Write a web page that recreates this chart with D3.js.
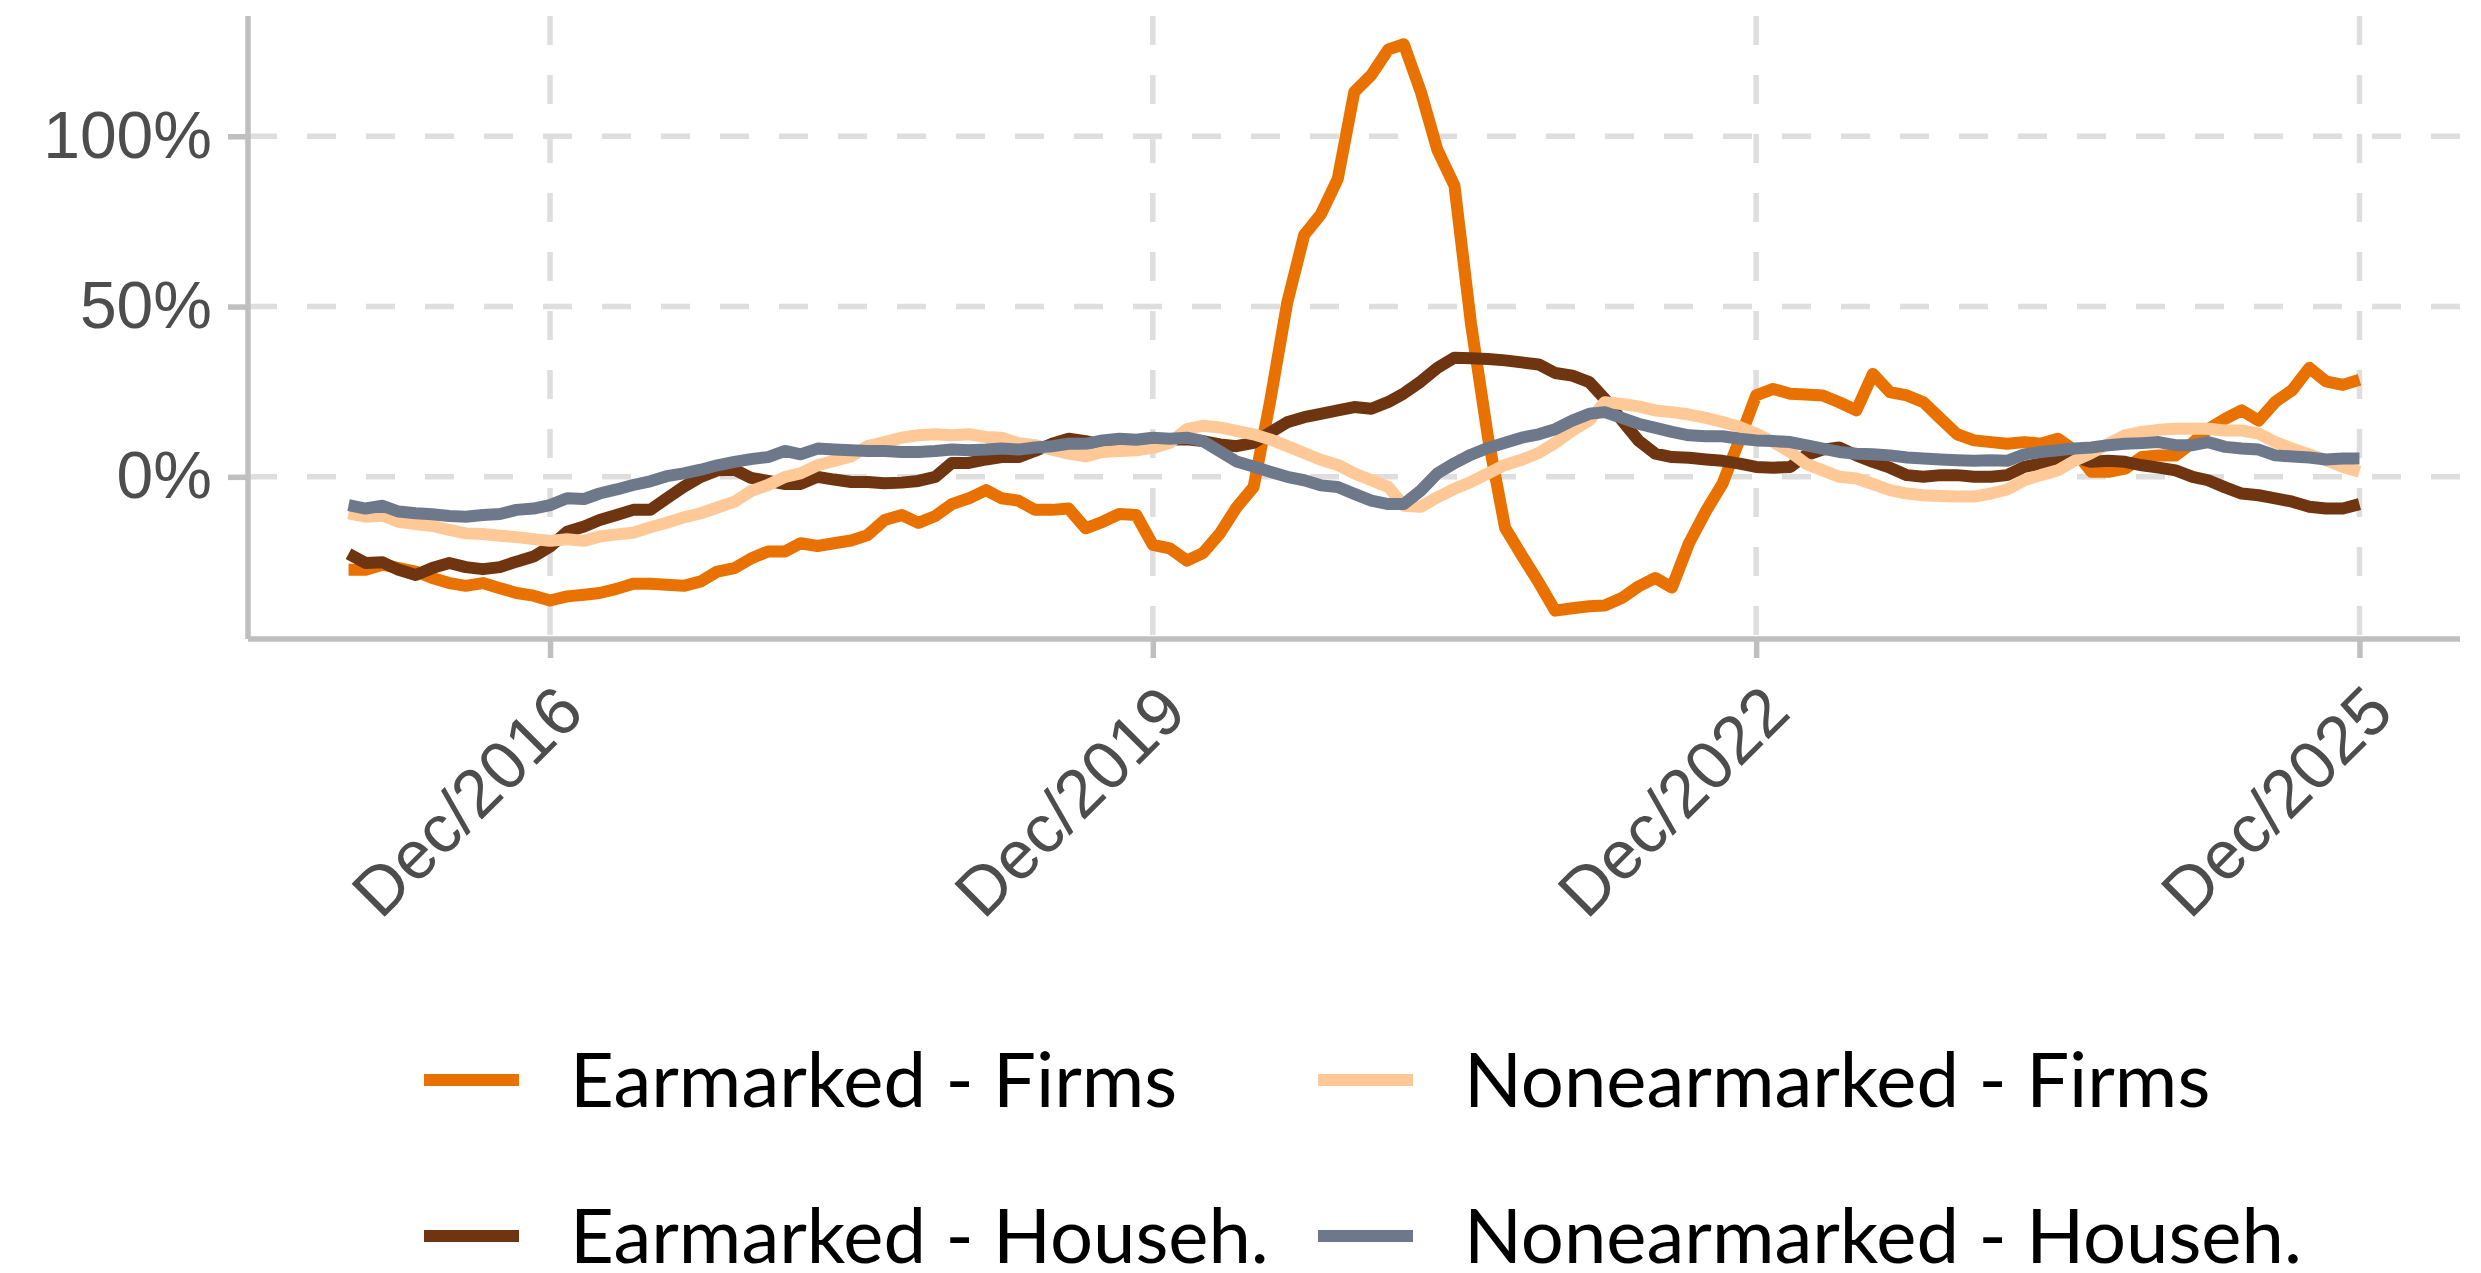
<!DOCTYPE html>
<html>
<head>
<meta charset="utf-8">
<script src="https://cdn.jsdelivr.net/npm/d3@7"></script>
<style>
  html, body { margin: 0; padding: 0; background: #fff; }
  svg { display: block; font-family: Lato, "Open Sans", sans-serif; }
</style>
</head>
<body>
<svg id="chart" width="2481" height="1273"></svg>
<script>
// monthly series, Dec/2015 .. Dec/2025 (121 points), values in %
var earmarkedFirms = [
  -27.3, -27.3, -25.8, -26.8, -27.8, -29.7, -31.2, -32, -31.2, -32.7, -34.1, -34.9, -36.3,
  -35.1, -34.6, -34.1, -32.9, -31.4, -31.4, -31.7, -32, -30.7, -27.8, -26.8, -24,
  -21.9, -21.9, -19.5, -20.3, -19.5, -18.7, -17.1, -12.7, -11.2, -13.5, -11.5, -8,
  -6.3, -3.9, -6.3, -7, -9.7, -9.7, -9.3, -15.1, -13.2, -10.9, -11.2, -20,
  -21, -24.6, -22.4, -16.6, -9, -3, 22, 51, 71, 77, 87.5, 113,
  118, 125.5, 127, 113, 96, 85.5, 45, 11.5, -15, -23, -31, -39.3,
  -38.6, -38, -37.8, -35.6, -32.2, -29.7, -32.5, -19.5, -10, -2, 11, 23.9,
  25.8, 24.4, 24.2, 23.9, 21.9, 19.5, 30.2, 24.9, 23.9, 21.9, 17.1, 12.5,
  10.7, 10.2, 9.7, 10.2, 9.7, 11.2, 7.8, 1.5, 1.5, 2.4, 5.8, 6.3,
  6.3, 10, 14, 17, 19.5, 16.5, 22, 25.5, 32, 28, 27, 28.5
];
var earmarkedHouseh = [
  -22.6, -25.3, -25.1, -27.3, -28.8, -26.8, -25.3, -26.5, -27.1, -26.5, -24.9, -23.4, -20.5,
  -16.1, -14.6, -12.7, -11.2, -9.7, -9.7, -6.3, -2.9, 0, 1.9, 2.1, -0.3,
  -1.2, -2.1, -2.1, 0, -0.8, -1.5, -1.5, -1.9, -1.7, -1.2, 0, 4.1,
  4.1, 5.1, 5.8, 5.8, 7.6, 9.7, 11.2, 10.5, 9.3, 8.8, 9.3, 9,
  11, 11, 10.5, 9.5, 9, 10, 13, 16, 17.5, 18.5, 19.5, 20.5,
  20, 22, 24.5, 28, 32, 35, 34.8, 34.6, 34.2, 33.6, 33, 30.5,
  29.7, 27.8, 22.9, 16.6, 10.7, 6.8, 5.8, 5.6, 5.1, 4.7, 3.9, 2.9,
  2.7, 2.9, 6.3, 8, 8.6, 6.3, 4.4, 2.7, 0.5, 0, 0.5, 0.5,
  0, 0, 0.5, 2.9, 3.9, 4.9, 5.8, 4.4, 4.7, 4.4, 3.4, 2.7,
  1.9, 0, -1, -3.1, -4.9, -5.4, -6.3, -7.3, -8.8, -9.3, -9.3, -8
];
var nonearmarkedFirms = [
  -10.7, -11.7, -11.4, -13.2, -13.9, -14.4, -15.6, -16.6, -16.8, -17.3, -17.7, -18.3, -18.8,
  -18.3, -18.8, -17.5, -16.9, -16.4, -14.8, -13.5, -11.9, -10.7, -9, -7.3, -4.2,
  -2.4, 0, 1, 3.4, 4.7, 6, 9, 10.2, 11.5, 12.2, 12.5, 12.2,
  12.5, 11.7, 11.5, 9.9, 9.3, 8, 6.8, 6, 7.3, 7.6, 7.8, 8.5,
  10, 14, 15, 14.5, 13.5, 12.5, 11, 9, 7, 5, 3.5, 1,
  -1, -3, -8.5, -8.8, -6, -3.5, -1.5, 1, 3.5, 5, 7, 10,
  13.6, 16.6, 21.9, 21.4, 20.7, 19.5, 19, 18.3, 17.3, 16.1, 14.6, 12.7,
  10.2, 7.3, 3.9, 1.9, 0, -0.5, -2.1, -3.9, -4.9, -5.4, -5.6, -5.8,
  -5.8, -4.9, -3.7, -1, 0.5, 1.9, 4.7, 7, 9.7, 12.2, 13.2, 13.8,
  14.1, 14.1, 14.1, 13.6, 13.6, 12.7, 10.2, 8.3, 6.6, 4.9, 2.9, 1.5
];
var nonearmarkedHouseh = [
  -8.3, -9.3, -8.5, -10.2, -10.7, -11, -11.5, -11.7, -11.2, -10.9, -9.7, -9.3, -8.3,
  -6.3, -6.5, -4.9, -3.7, -2.4, -1.3, 0.2, 1, 2.1, 3.4, 4.4, 5.2,
  5.8, 7.6, 6.6, 8.3, 8, 7.8, 7.6, 7.6, 7.3, 7.3, 7.6, 8,
  7.8, 8, 8.3, 8, 8.6, 9, 9.7, 9.7, 10.7, 11.2, 10.9, 11.5,
  11.2, 11.5, 10.5, 7.5, 4.5, 3, 1.5, 0, -1, -2.5, -3, -5,
  -7, -8, -8, -4, 1, 4, 6.5, 8.5, 10, 11.5, 12.5, 14,
  16.5, 18.5, 19, 17.3, 15.6, 14.4, 13.2, 12.2, 11.9, 11.9, 11.2, 10.7,
  10.5, 10.2, 9.3, 8.3, 7.3, 6.8, 6.6, 6.3, 5.7, 5.4, 5.1, 4.9,
  4.7, 4.9, 4.7, 6.6, 7.3, 7.8, 8.3, 8.6, 9.3, 9.7, 9.9, 10.2,
  9.3, 9.3, 10.2, 8.8, 8.3, 8, 6.3, 6, 5.7, 5.1, 5.4, 5.4
];

var seriesNames = ["Earmarked - Firms", "Earmarked - Househ.", "Nonearmarked - Firms", "Nonearmarked - Househ."];
var seriesColors = ["#e97100", "#6f3510", "#fec996", "#6e788b"];
var yTicks = [0, 50, 100];
var xTickYears = [2016, 2019, 2022, 2025];

var startDate = new Date(2015, 11, 1);
var dates = d3.range(earmarkedFirms.length).map(function (i) { return d3.timeMonth.offset(startDate, i); });

var series = [earmarkedFirms, earmarkedHouseh, nonearmarkedFirms, nonearmarkedHouseh].map(function (vals, k) {
  return { name: seriesNames[k], color: seriesColors[k], values: vals.map(function (v, i) { return { date: dates[i], value: v }; }) };
});

var svg = d3.select("#chart");

// panel box (ggplot style, 5% expansion on both axes)
var panel = { left: 248, right: 2460, top: 16, bottom: 639 };
var xSpan = panel.right - panel.left;
var xPad = xSpan * 0.05 / 1.1;
var x = d3.scaleTime()
    .domain([dates[0], dates[dates.length - 1]])
    .range([panel.left + xPad, panel.right - xPad]);

var allVals = d3.merge(series.map(function (s) { return s.values.map(function (d) { return d.value; }); }));
var yExt = d3.extent(allVals);
var yPad = (yExt[1] - yExt[0]) * 0.05;
var y = d3.scaleLinear()
    .domain([yExt[0] - yPad, yExt[1] + yPad])
    .range([panel.bottom, panel.top]);

var xTicks = xTickYears.map(function (yr) { return new Date(yr, 11, 1); });
var gridColor = "#dedede";
var axisColor = "#bfbfbf";

// gridlines
var grid = svg.append("g");
grid.selectAll(".hgrid").data(yTicks).enter().append("line")
    .attr("x1", panel.left).attr("x2", panel.right)
    .attr("y1", function (d) { return y(d); }).attr("y2", function (d) { return y(d); })
    .attr("stroke", gridColor).attr("stroke-width", 5.5)
    .attr("stroke-dasharray", "29 30");
grid.selectAll(".vgrid").data(xTicks).enter().append("line")
    .attr("x1", function (d) { return x(d); }).attr("x2", function (d) { return x(d); })
    .attr("y1", panel.top).attr("y2", panel.bottom)
    .attr("stroke", gridColor).attr("stroke-width", 5.5)
    .attr("stroke-dasharray", "29 30");

// series lines
var line = d3.line()
    .x(function (d) { return x(d.date); })
    .y(function (d) { return y(d.value); });

svg.append("g").selectAll("path").data(series).enter().append("path")
    .attr("d", function (s) { return line(s.values); })
    .attr("fill", "none")
    .attr("stroke", function (s) { return s.color; })
    .attr("stroke-width", 12)
    .attr("stroke-linejoin", "round");

// axes
var xAxis = svg.append("g").attr("transform", "translate(0," + panel.bottom + ")")
    .call(d3.axisBottom(x).tickValues(xTicks).tickFormat(d3.timeFormat("%b/%Y")).tickSize(19).tickPadding(0));
xAxis.select(".domain").remove();
xAxis.append("line").attr("x1", panel.left).attr("x2", panel.right)
    .attr("stroke", axisColor).attr("stroke-width", 5.5);
xAxis.selectAll(".tick line").attr("stroke", axisColor).attr("stroke-width", 5.5);
xAxis.selectAll(".tick text")
    .attr("fill", "#4d4d4d")
    .style("font-size", "68px")
    .attr("text-anchor", "end")
    .attr("dy", null)
    .attr("y", 0)
    .attr("transform", "translate(36,76) rotate(-45)");

var yAxis = svg.append("g").attr("transform", "translate(" + panel.left + ",0)")
    .call(d3.axisLeft(y).tickValues(yTicks).tickFormat(function (d) { return d + "%"; }).tickSize(20).tickPadding(16));
yAxis.select(".domain").remove();
yAxis.append("line").attr("y1", panel.top).attr("y2", panel.bottom)
    .attr("stroke", axisColor).attr("stroke-width", 5.5);
yAxis.selectAll(".tick line").attr("stroke", axisColor).attr("stroke-width", 5.5);
yAxis.selectAll(".tick text")
    .attr("fill", "#4d4d4d")
    .style("font-size", "66px");

// legend, 2 x 2, filled column-wise
var legendOrder = [0, 2, 1, 3];
var legend = svg.append("g");
legendOrder.forEach(function (k, i) {
  var col = i % 2, row = Math.floor(i / 2);
  var g = legend.append("g").attr("transform", "translate(" + (424 + col * 894) + "," + (1080 + row * 156) + ")");
  g.append("line").attr("x1", 0).attr("x2", 95).attr("y1", 0).attr("y2", 0)
      .attr("stroke", series[k].color).attr("stroke-width", 12);
  g.append("text").attr("x", 146).attr("y", 0).attr("dy", "0.36em")
      .style("font-size", "76px").attr("fill", "#000")
      .text(series[k].name);
});
</script>
</body>
</html>
